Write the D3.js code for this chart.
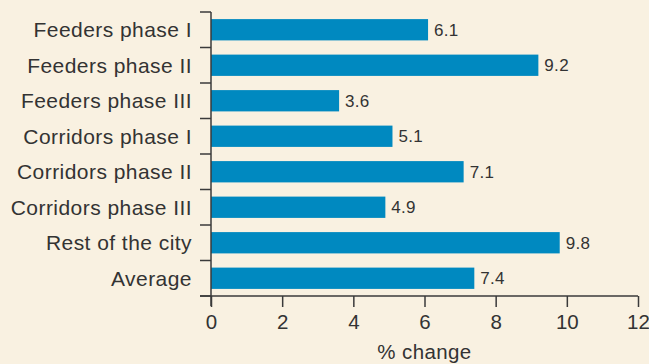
<!DOCTYPE html>
<html>
<head>
<meta charset="utf-8">
<script src="https://cdn.jsdelivr.net/npm/d3@7"></script>
<style>
  html, body { margin: 0; padding: 0; background: #f9f1e1; }
  svg { display: block; font-family: "Liberation Sans", Arial, sans-serif; }
</style>
</head>
<body>
<svg id="chart" width="649" height="364"></svg>
<script>
// Percent change by area
const categories = [
  "Feeders phase I",
  "Feeders phase II",
  "Feeders phase III",
  "Corridors phase I",
  "Corridors phase II",
  "Corridors phase III",
  "Rest of the city",
  "Average"
];
const values = [6.1, 9.2, 3.6, 5.1, 7.1, 4.9, 9.8, 7.4];
const xTicks = [0, 2, 4, 6, 8, 10, 12];
const xTitle = "% change";

const svg = d3.select("#chart");
const margin = { top: 12, left: 211, right: 11, bottom: 68 };
const W = 649, H = 364;

const x = d3.scaleLinear().domain([0, 12]).range([margin.left, W - margin.right]);
const y = d3.scaleBand().domain(categories).range([margin.top, H - margin.bottom]).paddingInner(0.4).paddingOuter(0.2);

const ink = "#333333";
const axisColor = "#3a3a3a";

// Bars
svg.append("g").selectAll("rect").data(values).join("rect")
  .attr("x", x(0))
  .attr("y", (d, i) => y(categories[i]))
  .attr("width", d => x(d) - x(0))
  .attr("height", y.bandwidth())
  .attr("fill", "#0089c0");

// Value labels
svg.append("g").selectAll("text").data(values).join("text")
  .attr("x", d => x(d) + 6)
  .attr("y", (d, i) => y(categories[i]) + y.bandwidth() / 2)
  .attr("dy", "0.36em")
  .attr("font-size", 17)
  .attr("letter-spacing", 0.3)
  .attr("fill", ink)
  .text(d => d.toFixed(1));

// Y axis: line with ticks at band boundaries
const step = y.step();
const boundaries = d3.range(categories.length + 1).map(i => margin.top + i * step);
const yAxisG = svg.append("g");
yAxisG.append("line")
  .attr("x1", x(0)).attr("x2", x(0))
  .attr("y1", boundaries[0]).attr("y2", boundaries[boundaries.length - 1] + 10)
  .attr("stroke", axisColor).attr("stroke-width", 1.5);
yAxisG.selectAll("line.tick").data(boundaries).join("line")
  .attr("class", "tick")
  .attr("x1", x(0) - 11).attr("x2", x(0))
  .attr("y1", d => d).attr("y2", d => d)
  .attr("stroke", axisColor).attr("stroke-width", 1.5);
yAxisG.selectAll("text").data(categories).join("text")
  .attr("x", x(0) - 19)
  .attr("y", d => y(d) + y.bandwidth() / 2)
  .attr("dy", "0.36em")
  .attr("text-anchor", "end")
  .attr("font-size", 21)
  .attr("letter-spacing", 0.45)
  .attr("fill", ink)
  .text(d => d);

// X axis
const baseY = boundaries[boundaries.length - 1];
const xAxis = d3.axisBottom(x).tickValues(xTicks).tickSize(11).tickPadding(7).tickFormat(d3.format("d"));
const xg = svg.append("g").attr("transform", `translate(0,${baseY})`).call(xAxis);
xg.select(".domain").remove();
xg.append("line")
  .attr("x1", x(0) - 11).attr("x2", x(12))
  .attr("y1", 0).attr("y2", 0)
  .attr("stroke", axisColor).attr("stroke-width", 1.5);
xg.selectAll(".tick line").attr("stroke", axisColor).attr("stroke-width", 1.5);
xg.selectAll(".tick text").attr("font-size", 20.5).attr("fill", ink).attr("font-family", "Liberation Sans, Arial, sans-serif");

svg.append("text")
  .attr("x", (x(0) + x(12)) / 2)
  .attr("y", 359)
  .attr("text-anchor", "middle")
  .attr("font-size", 20.5)
  .attr("letter-spacing", 0.4)
  .attr("fill", ink)
  .text(xTitle);
</script>
</body>
</html>
